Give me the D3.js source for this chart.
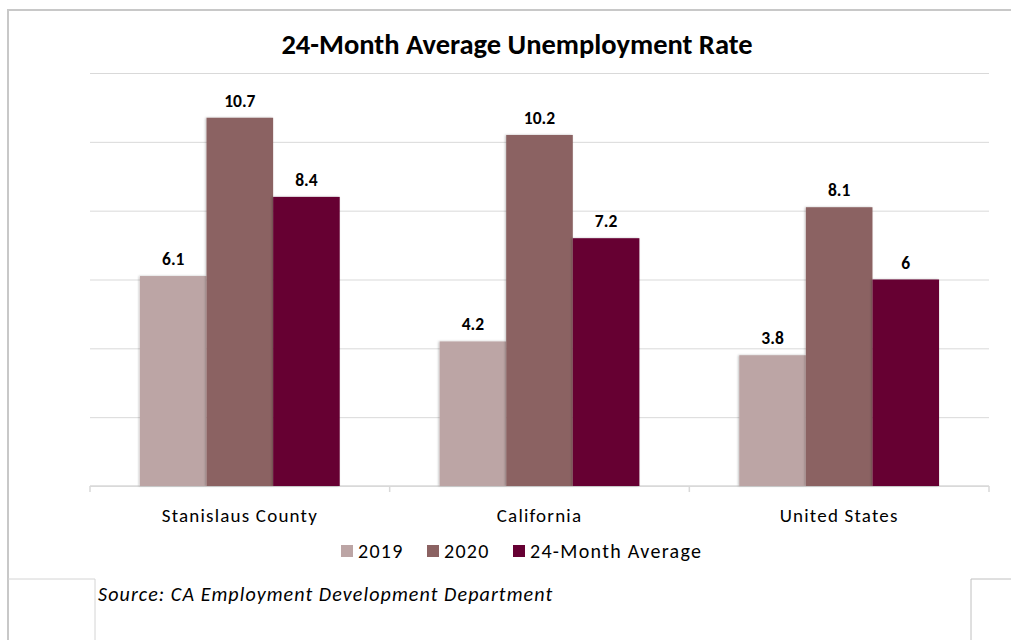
<!DOCTYPE html>
<html>
<head>
<meta charset="utf-8">
<script src="https://cdn.jsdelivr.net/npm/d3@7"></script>
<style>
  html, body { margin: 0; padding: 0; background: #fff; }
  svg { display: block; }
  text { font-family: Carlito, Calibri, Lato, "Open Sans", sans-serif; }
</style>
</head>
<body>
<svg id="chart" width="1011" height="640"></svg>
<script>
// Unemployment rates (%) by region
const categories = ["Stanislaus County", "California", "United States"];
const seriesNames = ["2019", "2020", "24-Month Average"];
const values2019 = [6.1, 4.2, 3.8];
const values2020 = [10.7, 10.2, 8.1];
const valuesAvg = [8.4, 7.2, 6];
const yTicks = [0, 2, 4, 6, 8, 10, 12];
const colors = ["#bca5a5", "#8b6262", "#660033"];
const titleText = "24-Month Average Unemployment Rate";
const sourceText = "Source: CA Employment Development Department";

const seriesValues = [values2019, values2020, valuesAvg];
const rows = categories.map((c, i) => ({
  category: c,
  values: seriesNames.map((s, j) => ({ series: s, value: seriesValues[j][i] }))
}));

const svg = d3.select("#chart");

// Frame lines around the chart area
const frame = svg.append("g").attr("fill", "none");
frame.append("path").attr("d", "M8,640 V10 H1011").attr("stroke", "#c8c8c8").attr("stroke-width", 2);
frame.append("path").attr("d", "M8,579 H95 V640").attr("stroke", "#d4d4d4").attr("stroke-width", 1);
frame.append("path").attr("d", "M971,640 V579 H1011").attr("stroke", "#c0c0c0").attr("stroke-width", 1);

const margin = { left: 90, right: 22, top: 73, bottom: 154 };
const plotW = 1011 - margin.left - margin.right;
const plotH = 640 - margin.top - margin.bottom;

const y = d3.scaleLinear().domain([0, 12]).range([margin.top + plotH, margin.top]);
const x0 = d3.scaleBand().domain(categories).range([margin.left, margin.left + plotW]).padding(0);
const x1 = d3.scaleBand().domain(seriesNames)
  .range([x0.bandwidth() / 6, x0.bandwidth() * 5 / 6]).padding(0);
const color = d3.scaleOrdinal().domain(seriesNames).range(colors);

// Title
svg.append("text")
  .attr("x", 517).attr("y", 54)
  .attr("text-anchor", "middle")
  .attr("font-size", 28.5).attr("font-weight", 700)
  .attr("fill", "#000")
  .text(titleText);

// Horizontal gridlines
const yAxis = d3.axisLeft(y).tickValues(yTicks).tickSize(-plotW).tickFormat("");
const gy = svg.append("g").attr("transform", `translate(${margin.left},0)`).call(yAxis);
gy.select(".domain").remove();
gy.selectAll(".tick line").attr("stroke", "#d9d9d9").attr("stroke-width", 1);

// Category axis with boundary ticks
const gx = svg.append("g").attr("transform", `translate(0,${y(0)})`);
gx.append("line").attr("x1", margin.left).attr("x2", margin.left + plotW)
  .attr("stroke", "#d9d9d9").attr("stroke-width", 1.5);
const bounds = categories.map(c => x0(c)).concat([margin.left + plotW]);
gx.selectAll("line.bound").data(bounds).join("line").attr("class", "bound")
  .attr("x1", d => d).attr("x2", d => d).attr("y1", 0).attr("y2", 6)
  .attr("stroke", "#d9d9d9").attr("stroke-width", 1.5);
gx.selectAll("text.cat").data(categories).join("text").attr("class", "cat")
  .attr("x", d => x0(d) + x0.bandwidth() / 2).attr("y", 36)
  .attr("text-anchor", "middle").attr("font-size", 19).attr("letter-spacing", 1.2)
  .attr("fill", "#000")
  .text(d => d);

// Soft shadow under bars
const defs = svg.append("defs");
const f = defs.append("filter").attr("id", "shadow").attr("x", "-10%").attr("y", "-10%")
  .attr("width", "120%").attr("height", "120%");
f.append("feDropShadow").attr("dx", -1).attr("dy", 0).attr("stdDeviation", 1.2)
  .attr("flood-color", "#000").attr("flood-opacity", 0.25);

// Bars and value labels
const groups = svg.append("g").selectAll("g").data(rows).join("g")
  .attr("transform", d => `translate(${x0(d.category)},0)`);
groups.selectAll("rect").data(d => d.values).join("rect")
  .attr("x", d => x1(d.series)).attr("width", x1.bandwidth())
  .attr("y", d => y(d.value)).attr("height", d => y(0) - y(d.value))
  .attr("fill", d => color(d.series))
  .attr("filter", "url(#shadow)");
groups.selectAll("text").data(d => d.values).join("text")
  .attr("x", d => x1(d.series) + x1.bandwidth() / 2)
  .attr("y", d => y(d.value) - 11)
  .attr("text-anchor", "middle").attr("font-size", 17.5).attr("font-weight", 700)
  .attr("fill", "#000")
  .text(d => d.value);

// Legend
const legendX = [341, 427, 513];
const legend = svg.append("g").selectAll("g").data(seriesNames).join("g")
  .attr("transform", (d, i) => `translate(${legendX[i]},545)`);
legend.append("rect").attr("width", 12).attr("height", 12).attr("fill", d => color(d));
legend.append("text").attr("x", 17).attr("y", 13)
  .attr("font-size", 20).attr("letter-spacing", 1.3).attr("fill", "#000").text(d => d);

// Source note
svg.append("text")
  .attr("x", 98).attr("y", 601)
  .attr("font-size", 20).attr("letter-spacing", 1.1)
  .attr("font-style", "italic").attr("fill", "#000")
  .text(sourceText);
</script>
</body>
</html>
